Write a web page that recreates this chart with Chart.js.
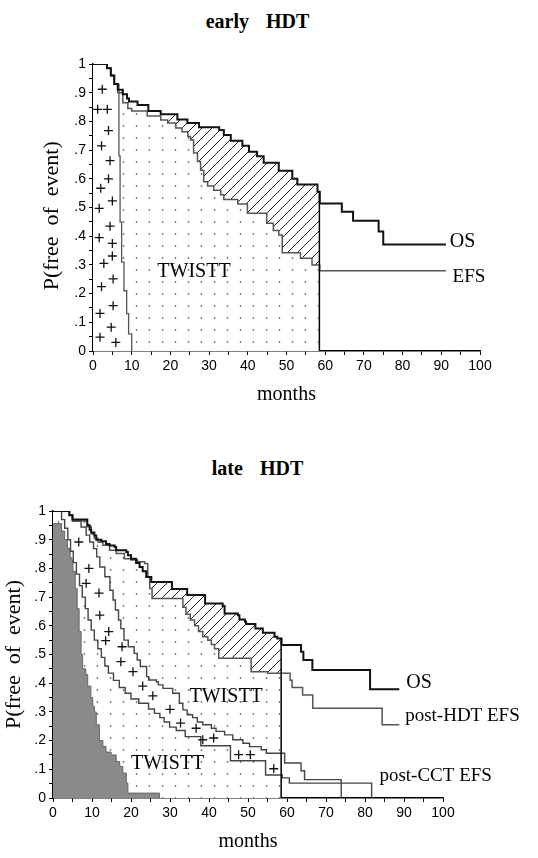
<!DOCTYPE html>
<html>
<head>
<meta charset="utf-8">
<script src="https://cdn.jsdelivr.net/npm/chart.js@4.4.1/dist/chart.umd.min.js"></script>
<style>
  body { margin: 0; background: #fff; width: 538px; height: 858px; position: relative; overflow: hidden; }
  .title { position: absolute; left: 0; width: 515px; text-align: center; font: bold 20px "Liberation Serif", "Times New Roman", serif; word-spacing: 12px; line-height: 24px; color: #000; }
  .wrap { position: absolute; left: 0; width: 538px; }
</style>
</head>
<body>
<div class="title" style="top:9px">early HDT</div>
<div class="title" style="top:456px">late HDT</div>
<div class="wrap" style="top:0;height:420px"><canvas id="earlyChart" width="538" height="420"></canvas></div>
<div class="wrap" style="top:420px;height:438px"><canvas id="lateChart" width="538" height="438"></canvas></div>
<script>
// ---- data: [months, P(free of event)] for each step curve ----
const cutoffMonths = 58.5;

// early HDT
const earlyOS = [[0,1],[3.6,0.985],[4.6,0.96],[5.5,0.93],[6.4,0.91],[7.7,0.895],[8.8,0.88],[9.3,0.869],[11.5,0.857],[14.3,0.836],[17.5,0.825],[21.8,0.807],[24.4,0.794],[27.4,0.78],[32.6,0.77],[33.8,0.753],[35.6,0.733],[38.6,0.715],[40.3,0.694],[42.4,0.679],[44.1,0.656],[48,0.628],[51.5,0.6],[52.8,0.58],[58,0.555],[58.6,0.514],[64.3,0.485],[67.2,0.454],[73.8,0.416],[75,0.371],[91.2,0.371]];
const earlyEFS = [[0,1],[3.6,0.985],[4.6,0.96],[5.5,0.93],[6.4,0.9],[7.7,0.865],[9,0.845],[10,0.836],[14,0.819],[17.5,0.805],[19.3,0.794],[21.4,0.777],[23,0.764],[24.5,0.747],[25.2,0.735],[26,0.69],[27,0.66],[27.8,0.63],[28.6,0.59],[29.6,0.575],[31.2,0.56],[33,0.544],[33.8,0.528],[37.4,0.512],[39.9,0.48],[44.9,0.445],[46.6,0.42],[48,0.404],[48.9,0.342],[53.6,0.323],[56.6,0.3],[58.6,0.28],[91.2,0.28]];
const earlyTOX = [[0,1],[3.6,0.985],[4.6,0.96],[5.5,0.93],[6.7,0.68],[7,0.45],[7.4,0.31],[8,0.21],[8.7,0.13],[9.2,0.06],[10,0]];
const earlyTox = [[2.4,0.912],[1.2,0.842],[3.7,0.842],[4.0,0.768],[2.2,0.715],[4.4,0.663],[4.0,0.6],[2.0,0.567],[5.0,0.523],[1.6,0.497],[4.4,0.435],[1.6,0.395],[5.0,0.375],[5.0,0.331],[2.8,0.305],[5.2,0.251],[2.2,0.224],[5.2,0.158],[1.8,0.131],[4.7,0.083],[1.8,0.048],[5.9,0.03]];

// late HDT
const lateOS = [[0,1],[4.2,0.985],[5,0.97],[8.8,0.95],[9.4,0.935],[9.8,0.925],[10.6,0.915],[11.1,0.9],[12.4,0.895],[13.6,0.885],[14.5,0.88],[15.8,0.875],[16.2,0.863],[18.8,0.857],[19.2,0.846],[20,0.834],[21.3,0.819],[22.2,0.805],[23,0.79],[23.9,0.77],[25.2,0.753],[30.5,0.728],[34.4,0.707],[39,0.678],[43.5,0.669],[44,0.643],[47.4,0.637],[47.8,0.622],[49.2,0.615],[49.5,0.606],[51.9,0.591],[53.8,0.576],[56.8,0.562],[57.5,0.556],[58.6,0.533],[63.6,0.51],[64.2,0.481],[66.5,0.446],[81.3,0.379],[88.8,0.379]];
const latePostHdtEFS = [[0,1],[4.2,0.985],[5,0.965],[8.8,0.945],[9.8,0.92],[10.6,0.904],[11.5,0.892],[12.8,0.881],[14.5,0.863],[16.2,0.852],[18.3,0.834],[20,0.829],[21.7,0.823],[23.5,0.817],[24.3,0.77],[24.8,0.73],[25.4,0.695],[33.3,0.665],[34.1,0.64],[35.2,0.62],[36.3,0.6],[37.3,0.58],[38.4,0.562],[39.7,0.55],[40.6,0.535],[41.4,0.52],[42.5,0.487],[50.8,0.44],[55,0.435],[60.8,0.41],[61.3,0.385],[64,0.359],[66.6,0.313],[84.4,0.255],[88.8,0.255]];
const lateHdtToxEnd = [[0,1],[4.2,0.985],[5,0.965],[7.2,0.944],[8.5,0.916],[9.4,0.892],[10.4,0.869],[11.2,0.84],[12,0.805],[13.3,0.771],[14.6,0.724],[15.4,0.69],[16,0.655],[16.8,0.62],[17.4,0.59],[18.2,0.55],[19.3,0.527],[20.8,0.504],[21.6,0.481],[22.4,0.458],[24,0.423],[24.5,0.411],[26.5,0.405],[27,0.394],[28.2,0.382],[30.7,0.365],[32.4,0.33],[33.3,0.307],[34.4,0.29],[35.8,0.28],[37,0.265],[38.4,0.255],[40.6,0.243],[41.8,0.232],[44,0.22],[46.1,0.203],[48.7,0.191],[50.4,0.179],[53.4,0.168],[54.7,0.156],[59.4,0.122],[63.6,0.095],[64.5,0.064],[73.9,0]];
const lateHdtStart = [[0,1],[2.2,0.97],[3,0.94],[3.8,0.9],[4.5,0.86],[5.2,0.82],[6,0.78],[6.8,0.74],[7.5,0.7],[8.3,0.66],[9,0.62],[9.8,0.585],[10.6,0.55],[11.5,0.52],[12.4,0.49],[13.3,0.46],[14.2,0.435],[15.5,0.41],[17,0.385],[18.5,0.365],[20,0.345],[22,0.33],[24.5,0.31],[26,0.295],[27.4,0.28],[28.5,0.265],[29.9,0.247],[31.6,0.235],[33.9,0.214],[37.9,0.182],[45.5,0.13],[54.5,0.08],[58.8,0.07],[60.6,0.052],[81.7,0]];
const lateCctTox = [[0,0.956],[2.2,0.93],[3,0.9],[3.7,0.87],[4.4,0.83],[5.1,0.79],[5.7,0.73],[6.2,0.66],[6.7,0.58],[7.2,0.5],[7.6,0.45],[8.4,0.43],[8.9,0.39],[9.7,0.35],[10.2,0.32],[10.6,0.3],[11.1,0.255],[11.9,0.2],[12.8,0.18],[13.6,0.16],[14.9,0.15],[16.2,0.127],[17.1,0.11],[17.9,0.087],[18.8,0.052],[19.2,0.017],[27.3,0]];
const lateTox = [[6.6,0.892],[9.2,0.8],[8.5,0.748],[11.8,0.714],[12,0.637],[14.3,0.58],[13.5,0.548],[17.7,0.527],[17.4,0.475],[20.5,0.44],[23,0.39],[25.6,0.356],[30,0.309],[32.7,0.261],[36.7,0.243],[38.4,0.203],[41.2,0.209],[47.6,0.151],[50.6,0.151],[56.6,0.102]];

const yTickLabels = ['0', '.1', '.2', '.3', '.4', '.5', '.6', '.7', '.8', '.9', '1'];

// text placed on the plot (months, probability)
const earlyText = [
  { text: 'OS', m: 92.2, p: 0.38, size: 20 },
  { text: 'EFS', m: 92.9, p: 0.259, size: 19 },
  { text: 'TWISTT', m: 26.1, p: 0.276, size: 20, align: 'center' }
];
const lateText = [
  { text: 'OS', m: 90.6, p: 0.40, size: 20 },
  { text: 'post-HDT EFS', m: 90.3, p: 0.284, size: 19 },
  { text: 'post-CCT EFS', m: 83.7, p: 0.075, size: 19 },
  { text: 'TWISTT', m: 44.4, p: 0.353, size: 20, align: 'center' },
  { text: 'TWISTT', m: 29.4, p: 0.119, size: 20, align: 'center' }
];

const serif = '"Liberation Serif", "Times New Roman", serif';
const sans = '"Liberation Sans", Arial, sans-serif';

// ---- helpers ----
const pts = arr => arr.map(([m, p]) => ({ x: m, y: p }));

function valueAt(series, t) {
  let v = series[0][1];
  series.forEach(([m, p]) => { if (m <= t) v = p; });
  return v;
}

function window_(series, from, to) {
  const out = [{ x: from, y: valueAt(series, from) }];
  series.forEach(([m, p]) => { if (m > from && m < to) out.push({ x: m, y: p }); });
  out.push({ x: to, y: valueAt(series, to) });
  return out;
}

function makePattern(kind) {
  const c = document.createElement('canvas');
  const g = c.getContext('2d');
  if (kind === 'dots') {
    c.width = 13; c.height = 12;
    g.fillStyle = '#fff'; g.fillRect(0, 0, 13, 12);
    g.fillStyle = '#333';
    g.beginPath(); g.arc(6.5, 6, 0.8, 0, Math.PI * 2); g.fill();
  } else {
    c.width = 10; c.height = 10;
    g.fillStyle = '#fff'; g.fillRect(0, 0, 10, 10);
    g.strokeStyle = '#222'; g.lineWidth = 1;
    g.beginPath();
    g.moveTo(0, 10); g.lineTo(10, 0);
    g.moveTo(-1, 1); g.lineTo(1, -1);
    g.moveTo(9, 11); g.lineTo(11, 9);
    g.stroke();
  }
  return g.createPattern(c, 'repeat');
}
const dots = makePattern('dots');
const hatch = makePattern('hatch');

function area(data, bg, order) {
  return { data, stepped: true, borderWidth: 0, pointRadius: 0, fill: 'origin', backgroundColor: bg, order };
}
function curve(series, color, width, order) {
  return { data: pts(series), stepped: true, borderColor: color, borderWidth: width, pointRadius: 0, fill: false, order };
}
function cutoffLine(os) {
  return { data: [{ x: cutoffMonths, y: 0 }, { x: cutoffMonths, y: valueAt(os, cutoffMonths) }],
           borderColor: '#000', borderWidth: 1.5, pointRadius: 0, fill: false, order: 2 };
}
function crosses(series) {
  return { data: pts(series), showLine: false, pointStyle: 'cross', pointRadius: 4.5,
           pointBorderColor: '#111', pointBorderWidth: 1.3, order: 0 };
}

const curveLabelPlugin = {
  id: 'curveLabels',
  afterDatasetsDraw(chart, args, opts) {
    const { ctx, scales: { x, y } } = chart;
    ctx.save();
    ctx.fillStyle = '#000';
    ctx.textBaseline = 'middle';
    (opts.items || []).forEach(it => {
      ctx.font = it.size + 'px ' + serif;
      ctx.textAlign = it.align || 'left';
      ctx.fillText(it.text, x.getPixelForValue(it.m), y.getPixelForValue(it.p));
    });
    ctx.restore();
  }
};

function axes(yWidth, xHeight, yTitlePad, yTitle) {
  const grid = { drawOnChartArea: false, drawTicks: true, tickLength: 4, color: '#000', lineWidth: 1 };
  const border = { display: true, color: '#000', width: 1.5 };
  return {
    x: {
      type: 'linear', min: 0, max: 100,
      ticks: { stepSize: 5, autoSkip: false, maxRotation: 0, padding: 3, color: '#000',
               font: { family: sans, size: 14 }, callback: v => (v % 10 === 0 ? String(v) : '') },
      grid, border,
      title: { display: true, text: 'months', color: '#000', font: { family: serif, size: 20 }, padding: { top: 4, bottom: 4 } },
      afterFit: s => { s.height = xHeight; }
    },
    y: {
      min: 0, max: 1,
      ticks: { stepSize: 0.05, autoSkip: false, padding: 3, color: '#000', font: { family: sans, size: 14 },
               callback: v => { const i = Math.round(v * 20); return i % 2 === 0 ? yTickLabels[i / 2] : ''; } },
      grid, border,
      title: { display: true, text: yTitle, color: '#000', font: { family: serif, size: 22 }, padding: { top: yTitlePad, bottom: 0 } },
      afterFit: s => { s.width = yWidth; }
    }
  };
}

function baseOptions(padding, scales, items) {
  return {
    responsive: false, animation: false, devicePixelRatio: 1, events: [],
    layout: { padding },
    plugins: { legend: { display: false }, tooltip: { enabled: false }, curveLabels: { items } },
    scales
  };
}

// ---- early HDT ----
new Chart(document.getElementById('earlyChart'), {
  type: 'line',
  data: {
    datasets: [
      area(window_(earlyOS, 19, cutoffMonths), hatch, 10),
      area(window_(earlyEFS, 0, cutoffMonths), dots, 9),
      area(pts(earlyTOX), '#fff', 8),
      curve(earlyTOX, '#555', 1.3, 5),
      curve(earlyEFS, '#555', 1.5, 4),
      curve(earlyOS, '#111', 2, 3),
      cutoffLine(earlyOS),
      crosses(earlyTox)
    ]
  },
  options: baseOptions({ left: 37, right: 58, top: 64, bottom: 9 },
                       axes(56, 60, 2, 'P(free  of  event)   '), earlyText),
  plugins: [curveLabelPlugin]
});

// ---- late HDT ----
new Chart(document.getElementById('lateChart'), {
  type: 'line',
  data: {
    datasets: [
      area(window_(lateOS, 24, cutoffMonths), hatch, 10),
      area(window_(latePostHdtEFS, 0, cutoffMonths), dots, 9),
      area(window_(lateHdtToxEnd, 0, cutoffMonths), '#fff', 8),
      area(window_(lateHdtStart, 0, cutoffMonths), dots, 7),
      { ...area(pts(lateCctTox), '#8a8a8a', 6), borderWidth: 1, borderColor: '#666' },
      curve(lateHdtStart, '#444', 1.4, 5),
      curve(lateHdtToxEnd, '#444', 1.4, 5),
      curve(latePostHdtEFS, '#555', 1.5, 4),
      curve(lateOS, '#111', 2, 3),
      cutoffLine(lateOS),
      crosses(lateTox)
    ]
  },
  options: baseOptions({ left: 1, right: 95, top: 91, bottom: 0 },
                       axes(52, 60, 0, 'P(free  of  event)'), lateText),
  plugins: [curveLabelPlugin]
});
</script>
</body>
</html>
